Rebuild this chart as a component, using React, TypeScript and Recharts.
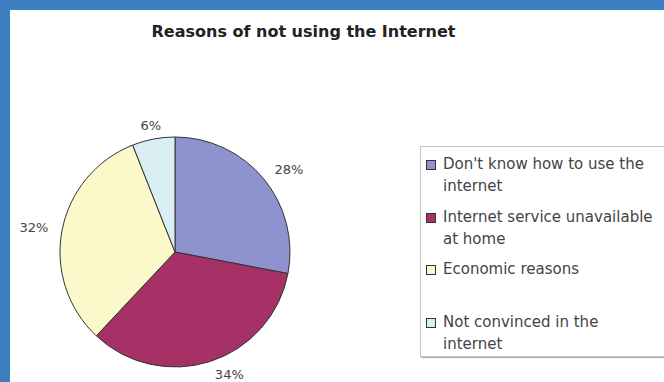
import React from "react";
import { PieChart, Pie, Cell, Legend } from "recharts";

const categories = [
  "Don't know how to use the internet",
  "Internet service unavailable at home",
  "Economic reasons",
  "Not convinced in the internet",
];
const shares = [28, 34, 32, 6];
const colors = ["#8e92cf", "#a53166", "#fbf9c9", "#d9eef3"];
const title = "Reasons of not using the Internet";

const data = categories.map((name, i) => ({ name, value: shares[i] }));

const FONT = "'DejaVu Sans', Verdana, sans-serif";
const RAD = Math.PI / 180;

const renderLabel = (props: any) => {
  const { cx, cy, midAngle, outerRadius, value } = props;
  const r = outerRadius + 14;
  const cos = Math.cos(-midAngle * RAD);
  const sin = Math.sin(-midAngle * RAD);
  const x = cx + r * cos;
  const y = cy + r * sin;
  const anchor = cos > 0.3 ? "start" : cos < -0.3 ? "end" : "middle";
  return (
    <text
      x={x}
      y={y}
      textAnchor={anchor}
      dominantBaseline="central"
      fontFamily={FONT}
      fontSize={13}
      fill="#444"
    >
      {`${value}%`}
    </text>
  );
};

const LegendBox = () => {
  return (
    <div
      style={{
        width: 262,
        height: 211,
        border: "1px solid #c4c4c4",
        boxShadow: "1px 1px 1px #b0b0b0",
        background: "#fff",
        boxSizing: "border-box",
        paddingTop: 6,
        fontFamily: FONT,
        fontSize: 15,
        color: "#444",
      }}
    >
      {categories.map((name, i) => (
        <div
          key={name}
          style={{ position: "relative", height: 52.5, paddingLeft: 22 }}
        >
          <span
            style={{
              position: "absolute",
              left: 5,
              top: 7,
              width: 8,
              height: 8,
              background: colors[i],
              border: "1px solid #333",
            }}
          />
          <div style={{ width: 215, lineHeight: "22px" }}>{name}</div>
        </div>
      ))}
    </div>
  );
};

export default function App() {
  return (
    <div
      style={{
        position: "absolute",
        left: 0,
        top: 0,
        width: 664,
        height: 382,
        background: "#3b7fc0",
        overflow: "hidden",
      }}
    >
      <div
        style={{
          position: "absolute",
          left: 10,
          top: 10,
          right: 0,
          bottom: 0,
          background: "#ffffff",
        }}
      />
      <div
        style={{
          position: "absolute",
          left: 0,
          top: 22,
          width: 607,
          textAlign: "center",
          fontFamily: FONT,
          fontWeight: "bold",
          fontSize: 16,
          color: "#222",
        }}
      >
        {title}
      </div>
      <div style={{ position: "absolute", left: 0, top: 0 }}>
        <PieChart
          width={664}
          height={382}
          margin={{ top: 0, right: 0, bottom: 0, left: 0 }}
        >
          <Pie
            data={data}
            dataKey="value"
            nameKey="name"
            cx={175}
            cy={252}
            outerRadius={115}
            startAngle={90}
            endAngle={-270}
            stroke="#333"
            strokeWidth={1}
            label={renderLabel}
            labelLine={false}
            isAnimationActive={false}
          >
            {data.map((d, i) => (
              <Cell key={d.name} fill={colors[i]} />
            ))}
          </Pie>
          <Legend
            content={<LegendBox />}
            wrapperStyle={{ position: "absolute", left: 420, top: 146, width: 262 }}
          />
        </PieChart>
      </div>
    </div>
  );
}
